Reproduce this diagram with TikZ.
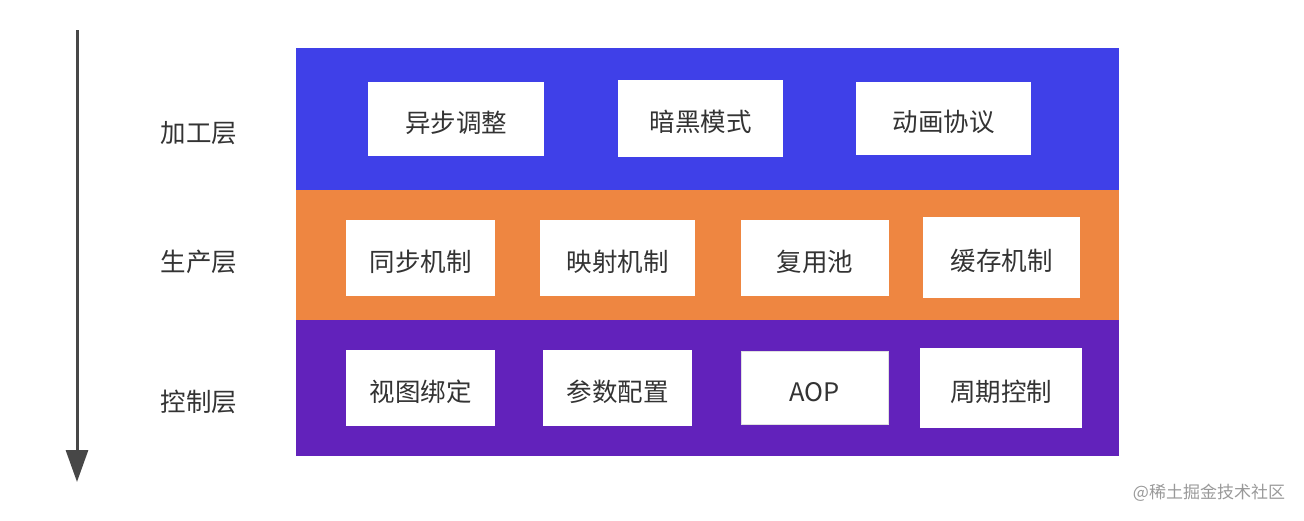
\documentclass[tikz,border=0pt]{standalone}
\usepackage{fontspec}
\setmainfont{Noto Sans CJK SC}
\usetikzlibrary{arrows.meta}

\definecolor{procblue}{HTML}{3F40E8}
\definecolor{prodorange}{HTML}{EE8641}
\definecolor{ctrlpurple}{HTML}{6222BB}
\definecolor{textgray}{HTML}{333333}

\begin{document}
\begin{tikzpicture} [x=1pt, y=-1pt,
  band/.style = {inner sep=0pt, minimum width=823pt},
  item/.style = {fill=white, inner sep=0pt, text=textgray, text height=29pt, text depth=3pt, font=\fontsize{25.5}{28}\selectfont},
  layer/.style = {text=textgray, font=\fontsize{25.5}{28}\selectfont}]
\useasboundingbox (0,0) rectangle (1304,520);
% layers
\node[band, fill=procblue, minimum height=142pt](proc) at (707.5,119){};
\node[band, fill=prodorange, minimum height=130pt](prod) at (707.5,255){};
\node[band, fill=ctrlpurple, minimum height=136pt](ctrl) at (707.5,388){};
\node[layer](lproc) at (199,133.5){加工层};
\node[layer](lprod) at (199,262){生产层};
\node[layer](lctrl) at (199,402){控制层};
% boxes
\node[item, minimum width=176pt, minimum height=74pt](async) at (456,119){异步调整};
\node[item, minimum width=165pt, minimum height=77pt](dark) at (700.5,118.5){暗黑模式};
\node[item, minimum width=175pt, minimum height=73pt](anim) at (943.5,118.5){动画协议};
\node[item, minimum width=149pt, minimum height=76pt](sync) at (420.5,258){同步机制};
\node[item, minimum width=155pt, minimum height=76pt](map) at (617.5,258){映射机制};
\node[item, minimum width=148pt, minimum height=76pt](pool) at (815,258){复用池};
\node[item, minimum width=157pt, minimum height=81pt](cache) at (1001.5,257.5){缓存机制};
\node[item, minimum width=149pt, minimum height=76pt](bind) at (420.5,388){视图绑定};
\node[item, minimum width=149pt, minimum height=76pt](conf) at (617.5,388){参数配置};
\node[item, minimum width=147pt, minimum height=73pt, draw=black!12](aop) at (814.5,388){AOP};
\node[item, minimum width=162pt, minimum height=80pt](cycle) at (1001,388){周期控制};
% arrow
\coordinate (top) at (77,30);
\coordinate (bot) at (77,482);
\draw [line width=3pt, color=textgray!90, -{Triangle[length=32pt, width=22pt]}] (top) -- (bot);
\node[text=black!40, font=\fontsize{17}{20}\selectfont](mark) at (1209,493){@稀土掘金技术社区};
\end{tikzpicture}
\end{document}
